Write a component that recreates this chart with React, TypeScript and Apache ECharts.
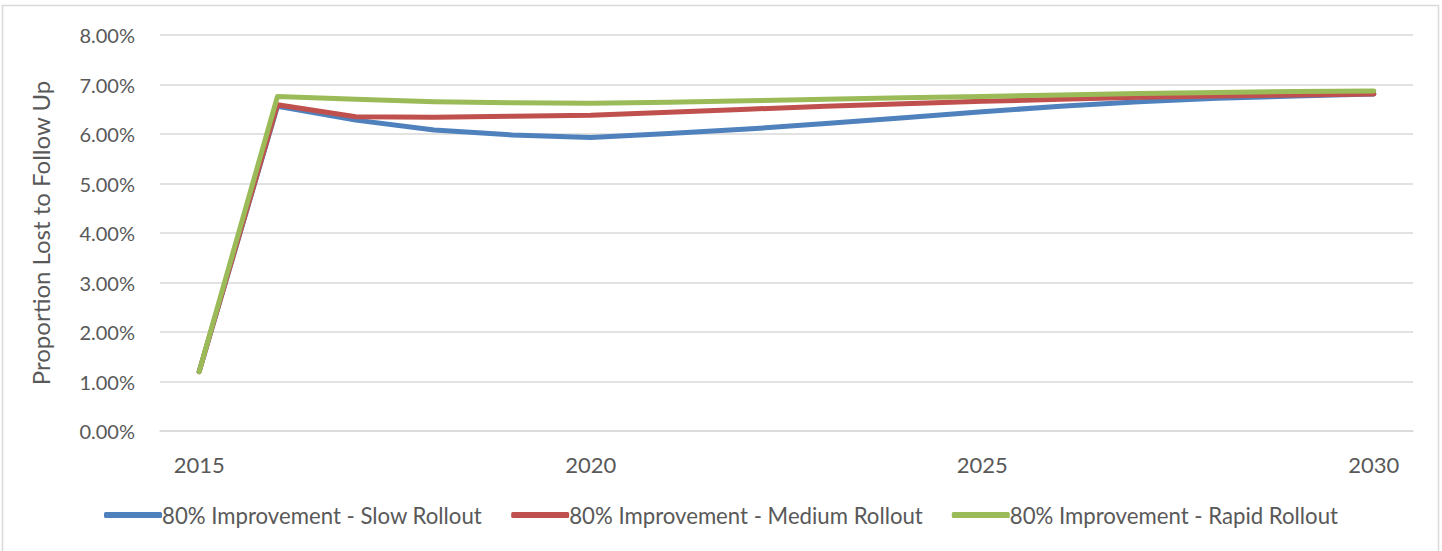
import React, { useEffect, useRef } from "react";
import * as echarts from "echarts";

const years = ["2015","2016","2017","2018","2019","2020","2021","2022","2023","2024","2025","2026","2027","2028","2029","2030"];
const slowRollout = [1.2, 6.56, 6.28, 6.08, 5.98, 5.93, 6.01, 6.1, 6.21, 6.33, 6.45, 6.56, 6.65, 6.72, 6.77, 6.81];
const mediumRollout = [1.2, 6.59, 6.35, 6.34, 6.36, 6.38, 6.44, 6.5, 6.56, 6.61, 6.66, 6.7, 6.74, 6.77, 6.79, 6.81];
const rapidRollout = [1.2, 6.76, 6.7, 6.65, 6.63, 6.62, 6.64, 6.67, 6.7, 6.73, 6.76, 6.79, 6.82, 6.84, 6.86, 6.87];
const seriesNames = [
  "80% Improvement - Slow Rollout",
  "80% Improvement - Medium Rollout",
  "80% Improvement - Rapid Rollout",
];
const colors = ["#4f81bd", "#c0504d", "#9bbb59"];
const FONT = "Lato";

export default function App() {
  const ref = useRef<HTMLDivElement>(null);
  useEffect(() => {
    document.body.style.margin = "0";
    const chart = echarts.init(ref.current!, null, { renderer: "svg" });
    const data = [slowRollout, mediumRollout, rapidRollout];
    chart.setOption({
      animation: false,
      backgroundColor: "#ffffff",
      color: colors,
      graphic: [
        {
          type: "rect",
          shape: { x: 2.5, y: 5.5, width: 1436, height: 560 },
          style: { fill: "none", stroke: "#d9d9d9", lineWidth: 1.5 },
          silent: true,
        },
      ],
      grid: { left: 160, right: 29, top: 35, bottom: 120, containLabel: false },
      legend: {
        bottom: 20,
        left: "center",
        icon: "roundRect",
        itemWidth: 58,
        itemHeight: 6,
        itemGap: 29,
        textStyle: { fontFamily: FONT, fontSize: 22.2, color: "#595959", padding: [0, 0, 0, -5] },
        data: seriesNames,
      },
      xAxis: {
        type: "category",
        data: years,
        boundaryGap: true,
        axisLine: { lineStyle: { color: "#d9d9d9", width: 1.5 } },
        axisTick: { show: false },
        axisLabel: { interval: 4, margin: 22, fontFamily: FONT, fontSize: 22, color: "#595959" },
      },
      yAxis: {
        type: "value",
        min: 0,
        max: 8,
        interval: 1,
        name: "Proportion Lost to Follow Up",
        nameLocation: "middle",
        nameRotate: 90,
        nameGap: 108,
        nameTextStyle: { fontFamily: FONT, fontSize: 24, color: "#595959" },
        axisLine: { show: false },
        axisTick: { show: false },
        splitLine: { lineStyle: { color: "#d9d9d9", width: 1.5 } },
        axisLabel: {
          margin: 25,
          fontFamily: FONT,
          fontSize: 20,
          color: "#595959",
          formatter: (v: number) => v.toFixed(2) + "%",
        },
      },
      series: seriesNames.map((name, i) => ({
        name,
        type: "line",
        data: data[i],
        symbol: "none",
        showSymbol: false,
        lineStyle: { width: 5, color: colors[i], cap: "round", join: "round" },
        itemStyle: { color: colors[i] },
      })),
    });
    return () => chart.dispose();
  }, []);
  return <div ref={ref} style={{ width: 1442, height: 551 }} />;
}
